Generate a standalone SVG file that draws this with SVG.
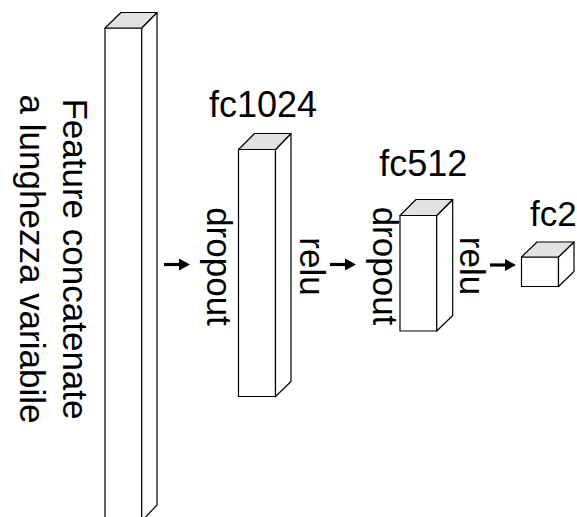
<svg xmlns="http://www.w3.org/2000/svg" width="577" height="517" viewBox="0 0 577 517">
<style>
.face{fill:#ffffff;stroke:#000;stroke-width:1.2;stroke-linejoin:round}
.top{fill:#e2e2e2;stroke:#000;stroke-width:1.2;stroke-linejoin:round}
.lbl{font-family:"Liberation Sans",Arial,sans-serif;font-size:35px;fill:#000}
.conn{stroke:#000;stroke-width:3.2;fill:none}
</style>
<defs>
<marker id="ah" markerWidth="11" markerHeight="12" refX="1" refY="6" orient="auto" markerUnits="userSpaceOnUse" viewBox="0 0 11 12">
<path d="M0,0 L11,6 L0,12 Z" fill="#000"/>
</marker>
</defs>
<rect width="577" height="517" fill="#fff"/>
<g id="input">
<rect class="face" x="105" y="28" width="36.7" height="493"/>
<path class="face" d="M141.7,28 L157,12.5 L157,505 L141.7,521 Z"/>
<path class="top" d="M105,28 L121,12.5 L157,12.5 L141.7,28 Z"/>
<text class="lbl" text-anchor="middle" transform="translate(63,259) rotate(90)">Feature concatenate</text>
<text class="lbl" text-anchor="middle" transform="translate(20,259) rotate(90)">a lunghezza variabile</text>
</g>
<g id="fc1024">
<rect class="face" x="238.5" y="149.5" width="37" height="247"/>
<path class="face" d="M275.5,149.5 L291,133.5 L291,381.5 L275.5,396.5 Z"/>
<path class="top" d="M238.5,149.5 L254.5,133.5 L291,133.5 L275.5,149.5 Z"/>
<text class="lbl" text-anchor="middle" x="263" y="116.5" style="font-size:36px">fc1024</text>
<text class="lbl" text-anchor="middle" transform="translate(207,266.5) rotate(90)">dropout</text>
<text class="lbl" text-anchor="middle" transform="translate(300,266.5) rotate(90)">relu</text>
</g>
<g id="fc512">
<rect class="face" x="400" y="215.5" width="36.7" height="115.5"/>
<path class="face" d="M436.7,215.5 L452.7,199.5 L452.7,315.5 L436.7,331 Z"/>
<path class="top" d="M400,215.5 L416,199.5 L452.7,199.5 L436.7,215.5 Z"/>
<text class="lbl" text-anchor="middle" x="423.3" y="176" style="font-size:36px">fc512</text>
<text class="lbl" text-anchor="middle" transform="translate(373,266) rotate(90)">dropout</text>
<text class="lbl" text-anchor="middle" transform="translate(460,266) rotate(90)">relu</text>
</g>
<g id="fc2">
<rect class="face" x="521.5" y="257" width="37" height="29.5"/>
<path class="face" d="M558.5,257 L574,242 L574,271.5 L558.5,286.5 Z"/>
<path class="top" d="M521.5,257 L537,242 L574,242 L558.5,257 Z"/>
<text class="lbl" x="530" y="226" style="font-size:35px">fc2</text>
</g>
<g id="connectors">
<line class="conn" x1="164" y1="264.5" x2="180" y2="264.5" marker-end="url(#ah)"/>
<line class="conn" x1="330" y1="264.5" x2="346" y2="264.5" marker-end="url(#ah)"/>
<line class="conn" x1="490" y1="265" x2="506" y2="265" marker-end="url(#ah)"/>
</g>
</svg>
